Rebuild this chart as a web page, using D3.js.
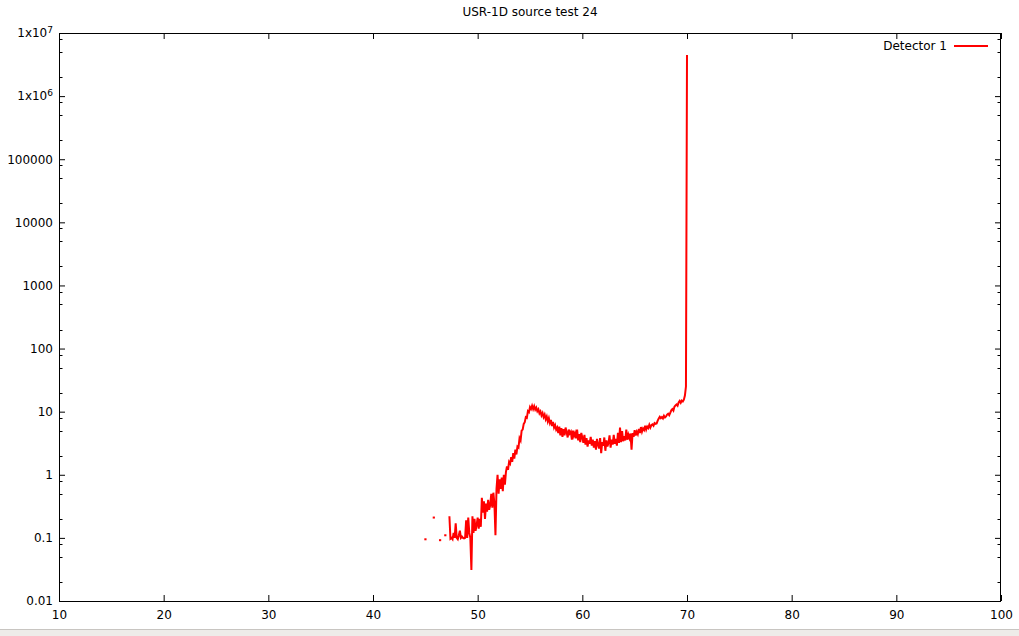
<!DOCTYPE html>
<html><head><meta charset="utf-8">
<script src="https://cdn.jsdelivr.net/npm/d3@7"></script>
<style>
body{margin:0;background:#fff}
svg{display:block}
text{font-family:"DejaVu Sans",sans-serif;font-size:12px;fill:#000}
</style>
</head><body>
<svg id="c" width="1019" height="636"></svg>
<script>
const title = "USR-1D source test 24";
const seriesName = "Detector 1";
const xTicks = [10,20,30,40,50,60,70,80,90,100];
const yTickValues = [0.01,0.1,1,10,100,1000,10000,100000,1e6,1e7];
const yTickLabels = ["0.01","0.1","1","10","100","1000","10000","100000","1x10^6","1x10^7"];
const yMinorFactors = [2,5,8];

// isolated (unconnected) channels
const isoX = [45.0,45.8,46.4,46.9];
const isoY = [0.095,0.21,0.092,0.11];

// continuous trace
const energy = [
47.3,47.4,47.5,47.6,47.7,47.8,47.9,48.0,48.1,48.2,
48.3,48.4,48.5,48.6,48.7,48.8,48.9,49.0,49.1,49.2,
49.3,49.4,49.5,49.6,49.7,49.8,49.9,50.0,50.1,50.2,
50.3,50.4,50.5,50.6,50.7,50.8,50.9,51.0,51.1,51.2,
51.3,51.4,51.5,51.6,51.7,51.8,51.9,52.0,52.1,52.2,
52.3,52.4,52.5,52.6,52.7,52.8,52.9,53.0,53.1,53.2,
53.3,53.4,53.5,53.6,53.7,53.8,53.9,54.0,54.1,54.2,
54.3,54.4,54.5,54.6,54.7,54.8,54.9,55.0,55.1,55.2,
55.3,55.4,55.5,55.6,55.7,55.8,55.9,56.0,56.1,56.2,
56.3,56.4,56.5,56.6,56.7,56.8,56.9,57.0,57.1,57.2,
57.3,57.4,57.5,57.6,57.7,57.8,57.9,58.0,58.1,58.2,
58.3,58.4,58.5,58.6,58.7,58.8,58.9,59.0,59.1,59.2,
59.3,59.4,59.5,59.6,59.7,59.8,59.9,60.0,60.1,60.2,
60.3,60.4,60.5,60.6,60.7,60.8,60.9,61.0,61.1,61.2,
61.3,61.4,61.5,61.6,61.7,61.8,61.9,62.0,62.1,62.2,
62.3,62.4,62.5,62.6,62.7,62.8,62.9,63.0,63.1,63.2,
63.3,63.4,63.5,63.6,63.7,63.8,63.9,64.0,64.1,64.2,
64.3,64.4,64.5,64.6,64.7,64.8,64.9,65.0,65.1,65.2,
65.3,65.4,65.5,65.6,65.7,65.8,65.9,66.0,66.1,66.2,
66.3,66.4,66.5,66.6,66.7,66.8,66.9,67.0,67.1,67.2,
67.3,67.4,67.5,67.6,67.7,67.8,67.9,68.0,68.1,68.2,
68.3,68.4,68.5,68.6,68.7,68.8,68.9,69.0,69.1,69.2,
69.3,69.4,69.5,69.6,69.7,69.8,69.9,70.0];
const counts = [
0.22,0.097,0.1,0.095,0.12,0.1,0.17,0.1,0.095,0.11,
0.13,0.1,0.105,0.1,0.098,0.1,0.19,0.1,0.21,0.12,
0.1,0.031,0.22,0.12,0.2,0.13,0.16,0.21,0.14,0.2,
0.15,0.43,0.25,0.38,0.2,0.35,0.26,0.4,0.28,0.33,
0.5,0.3,0.52,0.35,0.11,0.6,1.0,0.5,0.85,0.6,
0.9,0.55,1.0,0.7,1.1,1.35,1.2,1.6,1.5,1.9,
1.6,2.2,1.8,2.5,2.1,2.8,2.7,3.8,3.5,5.0,
5.2,6.4,6.8,8.2,8.0,10.2,9.8,11.8,11.0,12.4,
11.0,12.2,10.8,11.6,10.2,10.9,9.4,10.1,8.7,9.5,
8.2,9.0,7.6,8.4,7.0,7.9,6.6,7.4,5.9,6.9,
5.6,6.1,5.2,5.6,4.6,5.8,4.2,5.5,4.0,5.3,
4.2,5.6,4.7,3.9,5.2,4.5,4.8,3.6,5.0,4.1,
4.6,3.8,5.2,3.5,4.4,3.3,4.6,3.9,3.2,4.3,
3.0,3.8,2.8,3.5,3.1,4.0,2.9,3.6,2.7,3.4,
2.5,3.7,3.0,2.6,3.8,2.2,3.3,2.9,3.9,2.4,
3.5,2.8,3.2,4.2,2.7,3.6,3.0,4.3,3.1,3.7,
2.9,4.6,3.2,5.6,3.3,4.9,3.4,4.1,3.5,5.2,
3.6,4.3,3.8,4.5,2.5,4.6,4.0,5.1,4.2,4.8,
4.4,5.3,4.6,5.7,4.8,5.4,5.1,6.0,5.2,5.8,
5.5,6.2,5.6,6.1,6.3,6.0,6.6,6.4,6.5,7.2,
7.8,8.3,7.9,8.2,7.8,8.6,8.1,8.4,9.0,9.3,
8.8,9.6,10.5,11,10.4,12,12.5,13,12.4,14,
14.8,13.8,15,14.5,15.5,18,25,4500000];

const svg = d3.select("#c");
const W = 1019, H = 636;
const L = 59, R = 1001, T = 33, B = 601;

svg.append("rect").attr("width",W).attr("height",H).attr("fill","#fff");

const x = d3.scaleLinear().domain([10,100]).range([L,R]);
const y = d3.scaleLog().domain([0.01,1e7]).range([B,T]);

// title
svg.append("text").attr("x",530).attr("y",12).attr("dy","0.35em")
  .attr("text-anchor","middle").text(title);

// axes
const gB = svg.append("g").attr("transform",`translate(0,${B})`)
  .call(d3.axisBottom(x).tickValues(xTicks).tickSize(-6).tickPadding(9).tickFormat(d3.format("d")));
const gT = svg.append("g").attr("transform",`translate(0,${T})`)
  .call(d3.axisTop(x).tickValues(xTicks).tickSize(-6).tickFormat(""));
const gL = svg.append("g").attr("transform",`translate(${L},0)`)
  .call(d3.axisLeft(y).tickValues(yTickValues).tickSize(-6).tickPadding(6)
    .tickFormat((d,i)=>yTickLabels[i]));
const gR = svg.append("g").attr("transform",`translate(${R},0)`)
  .call(d3.axisRight(y).tickValues(yTickValues).tickSize(-6).tickFormat(""));

[gB,gT,gL,gR].forEach(g=>{
  g.select(".domain").remove();
  g.selectAll("text").attr("font-family",'"DejaVu Sans",sans-serif').attr("font-size",12).attr("fill","#000");
  g.selectAll("line").attr("stroke","#000");
});

// superscript labels
gL.selectAll(".tick text").each(function(d,i){
  const lab = yTickLabels[i];
  if(lab.indexOf("^")>=0){
    const [base,exp] = lab.split("^");
    const t = d3.select(this); t.text(null);
    t.append("tspan").text(base);
    t.append("tspan").attr("dy","-0.45em").attr("font-size",9).text(exp);
  }
});

// minor y ticks
const minors = [];
yTickValues.slice(0,-1).forEach(v=>yMinorFactors.forEach(f=>minors.push(v*f)));
svg.append("g").selectAll("line.ml").data(minors).join("line")
  .attr("x1",L).attr("x2",L+3.5).attr("y1",d=>Math.round(y(d))+0.5).attr("y2",d=>Math.round(y(d))+0.5)
  .attr("stroke","#000");
svg.append("g").selectAll("line.mr").data(minors).join("line")
  .attr("x1",R).attr("x2",R-3.5).attr("y1",d=>Math.round(y(d))+0.5).attr("y2",d=>Math.round(y(d))+0.5)
  .attr("stroke","#000");

// frame
svg.append("rect").attr("x",L+0.5).attr("y",T+0.5).attr("width",R-L-1).attr("height",B-T)
  .attr("fill","none").attr("stroke","#000").attr("stroke-width",1);

// data
const pts = energy.map((e,i)=>({x:e,y:counts[i]}));
const line = d3.line().x(d=>x(d.x)).y(d=>y(d.y)).defined(d=>d.y>0);
svg.append("path").datum(pts).attr("d",line)
  .attr("fill","none").attr("stroke","#ff0000").attr("stroke-width",2).attr("stroke-linejoin","miter");

svg.append("g").selectAll("rect").data(isoX.map((e,i)=>({x:e,y:isoY[i]}))).join("rect")
  .attr("x",d=>x(d.x)-1).attr("y",d=>y(d.y)-1).attr("width",2.2).attr("height",2)
  .attr("fill","#ff0000");

// legend
svg.append("text").attr("x",947).attr("y",46).attr("dy","0.35em").attr("text-anchor","end").text(seriesName);
svg.append("line").attr("x1",954).attr("x2",988).attr("y1",46).attr("y2",46)
  .attr("stroke","#ff0000").attr("stroke-width",2);

// bottom window bar
svg.append("rect").attr("x",0).attr("y",629).attr("width",W).attr("height",H-629).attr("fill","#eeece9");
svg.append("line").attr("x1",0).attr("x2",W).attr("y1",629.5).attr("y2",629.5).attr("stroke","#c8c5c1");
</script>
</body></html>
